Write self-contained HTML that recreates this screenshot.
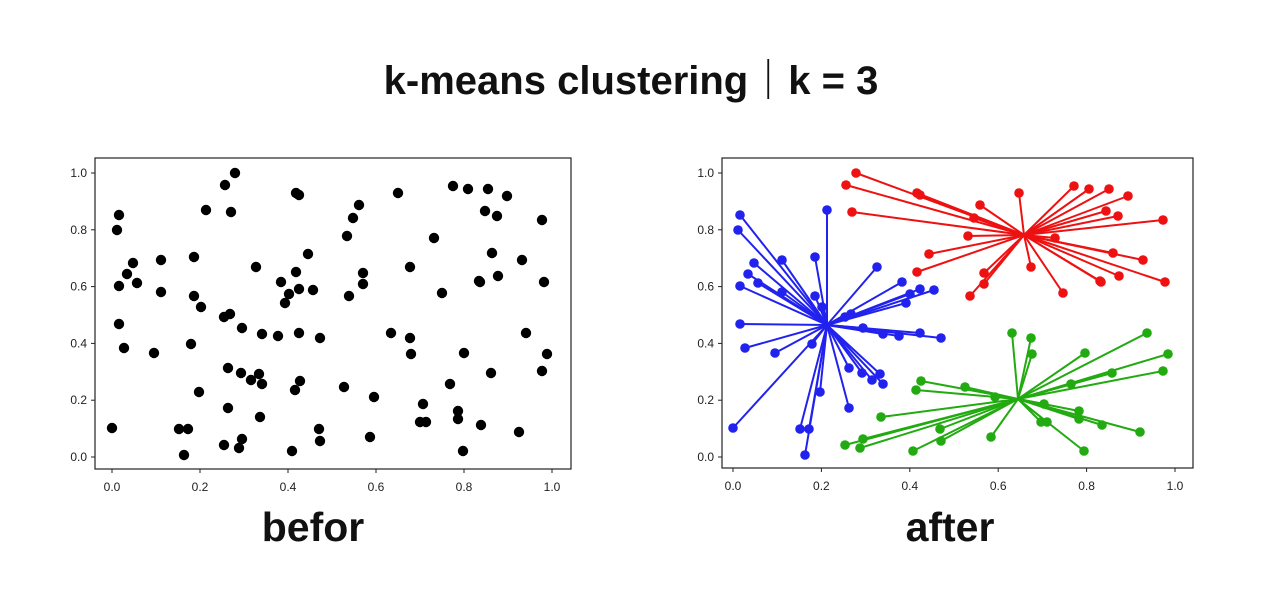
<!DOCTYPE html>
<html><head><meta charset="utf-8"><style>
body{margin:0;background:#fff;width:1280px;height:600px;overflow:hidden;font-family:"Liberation Sans","Noto Sans CJK JP",sans-serif}
</style></head><body>
<svg id="s" width="1280" height="600" xmlns="http://www.w3.org/2000/svg" font-family="Liberation Sans, Noto Sans CJK JP, sans-serif">
<text x="631" y="94" text-anchor="middle" font-size="40" font-weight="bold" fill="#111">k-means clustering｜k = 3</text>
<text x="313" y="541" text-anchor="middle" font-size="41" font-weight="bold" fill="#111">befor</text>
<text x="950" y="541" text-anchor="middle" font-size="41" font-weight="bold" fill="#111">after</text>
<g id="g"></g>
</svg>
<script>
var P=[[112,428],[119,215],[117,230],[133,263],[127,274],[119,286],[137,283],[161,260],[161,292],[194,257],[119,324],[124,348],[154,353],[191,344],[194,296],[201,307],[206,210],[225,185],[235,173],[231,212],[296,193],[299,195],[256,267],[308,254],[296,272],[281,282],[299,289],[313,290],[289,294],[285,303],[224,317],[230,314],[242,328],[262,334],[278,336],[299,333],[320,338],[228,368],[241,373],[251,380],[259,374],[262,384],[300,381],[295,390],[199,392],[228,408],[260,417],[179,429],[188,429],[319,429],[320,441],[242,439],[239,448],[224,445],[184,455],[292,451],
[453,186],[468,189],[488,189],[507,196],[398,193],[359,205],[353,218],[347,236],[485,211],[497,216],[542,220],[434,238],[492,253],[522,260],[410,267],[363,273],[363,284],[479,281],[480,282],[498,276],[544,282],[349,296],[442,293],[391,333],[410,338],[411,354],[464,353],[526,333],[547,354],[542,371],[491,373],[344,387],[450,384],[374,397],[423,404],[458,411],[458,419],[420,422],[426,422],[481,425],[519,432],[370,437],[463,451]];
var h='';
function axes(x0,x1,y0,y1,zx,sx){
 h+='<rect x="'+x0+'" y="'+y0+'" width="'+(x1-x0)+'" height="'+(y1-y0)+'" fill="none" stroke="#222" stroke-width="1.2"/>';
 for(var i=0;i<=5;i++){
  var v=(i/5).toFixed(1),X=zx+i*0.2*sx,Y=457-i*0.2*284;
  h+='<line x1="'+X+'" y1="'+y1+'" x2="'+X+'" y2="'+(y1+4)+'" stroke="#222"/>';
  h+='<text x="'+X+'" y="'+(y1+22)+'" font-size="12" text-anchor="middle" fill="#222">'+v+'</text>';
  h+='<line x1="'+(x0-4)+'" y1="'+Y+'" x2="'+x0+'" y2="'+Y+'" stroke="#222"/>';
  h+='<text x="'+(x0-8)+'" y="'+(Y+4)+'" font-size="12" text-anchor="end" fill="#222">'+v+'</text>';
 }
}
axes(95,571,158,469,112,440);
axes(722,1193,158,468,733,442);
P.forEach(function(p){h+='<circle cx="'+p[0]+'" cy="'+p[1]+'" r="5.2" fill="#000"/>';});
var C=[[827,325,'#2222ee'],[1024,235,'#ee1111'],[1018,399,'#22aa11']];
var L='',D='';
P.forEach(function(p){
 var x=p[0]+621,y=p[1],b=0,bd=1e9;
 C.forEach(function(c,i){var dx=(x-c[0])/442,dy=(y-c[1])/284,d=dx*dx+dy*dy;if(d<bd){bd=d;b=i;}});
 var c=C[b];
 L+='<line x1="'+c[0]+'" y1="'+c[1]+'" x2="'+x+'" y2="'+y+'" stroke="'+c[2]+'" stroke-width="2"/>';
 D+='<circle cx="'+x+'" cy="'+y+'" r="4.8" fill="'+c[2]+'"/>';
});
h+=L+D;
document.getElementById('g').innerHTML=h;
</script>
</body></html>
